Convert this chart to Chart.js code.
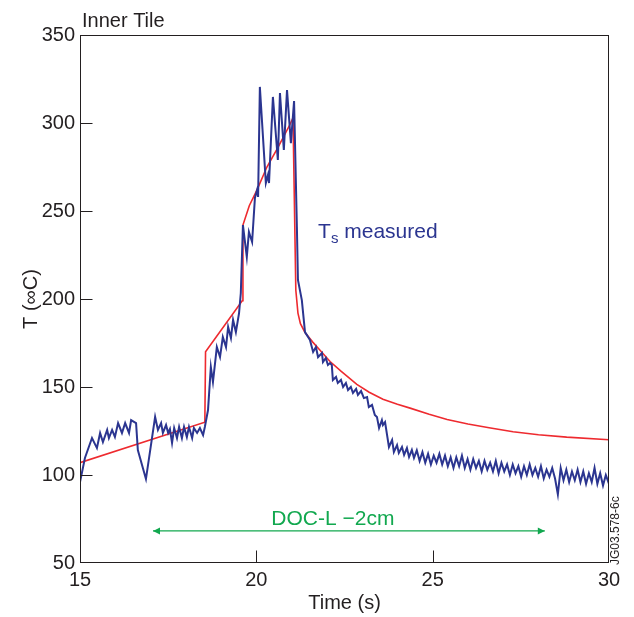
<!DOCTYPE html>
<html>
<head>
<meta charset="utf-8">
<script src="https://cdn.jsdelivr.net/npm/chart.js@4/dist/chart.umd.min.js"></script>
<style>
html, body { margin: 0; padding: 0; background: #fff; }
</style>
</head>
<body>
<canvas id="myChart" width="634" height="617"></canvas>
<script>
// measured surface temperature (blue)
var measTime = [15.00,15.14,15.34,15.48,15.57,15.65,15.77,15.82,15.91,15.99,16.08,16.19,16.28,16.39,16.45,16.59,16.64,16.87,17.13,17.21,
  17.30,17.35,17.44,17.50,17.55,17.61,17.67,17.75,17.81,17.89,17.95,18.03,18.09,18.18,18.23,18.32,18.40,18.49,18.54,18.63,
  18.71,18.77,18.88,18.97,19.05,19.14,19.20,19.28,19.34,19.42,19.51,19.56,19.62,19.73,19.79,19.88,19.96,20.02,20.05,20.10,
  20.27,20.33,20.36,20.47,20.61,20.67,20.78,20.87,20.98,21.07,21.15,21.18,21.29,21.38,21.52,21.61,21.69,21.75,21.86,21.89,
  21.97,22.03,22.09,22.14,22.17,22.26,22.31,22.40,22.46,22.54,22.60,22.68,22.74,22.83,22.88,22.97,23.05,23.14,23.19,23.28,
  23.36,23.42,23.48,23.56,23.59,23.65,23.76,23.85,23.90,23.99,24.04,24.13,24.19,24.27,24.33,24.41,24.47,
  24.55,24.63,24.71,24.79,24.87,24.95,25.03,25.11,25.19,25.27,25.35,25.43,25.51,25.59,25.67,25.75,25.83,25.91,25.99,26.07,
  26.15,26.23,26.31,26.39,26.47,26.55,26.63,26.71,26.79,26.87,26.95,27.03,27.11,27.19,27.27,27.35,27.43,27.51,27.59,27.67,
  27.75,27.83,27.91,27.99,28.07,28.15,28.23,28.31,28.39,28.47,28.55,28.63,28.71,28.79,28.87,28.95,29.03,29.11,29.19,29.27,
  29.35,29.43,29.51,29.59,29.67,29.75,29.83,29.91,30.00];
var measTemp = [96.0,109.7,121.0,115.3,123.9,118.7,125.6,121.0,125.6,121.6,129.5,123.9,129.5,123.9,131.2,129.5,114.2,97.7,133.0,125.6,
  129.5,123.9,128.4,123.9,126.1,118.2,126.7,121.0,127.3,121.0,127.3,121.6,127.3,121.0,126.7,123.9,126.7,122.7,127.3,136.9,
  161.4,152.8,172.7,167.0,178.4,172.7,184.1,177.8,188.1,181.2,192.0,203.4,242.0,223.9,238.1,232.4,257.4,261.9,258.0,320.5,
  265.9,270.5,265.9,314.8,279.0,317.0,284.7,318.7,288.6,312.5,240.9,210.8,199.4,181.2,176.7,169.9,172.7,167.0,169.3,164.2,
  166.5,162.5,163.6,162.5,154.0,155.7,152.3,154.0,150.0,152.3,148.3,150.0,146.6,148.9,145.5,147.7,143.7,144.3,138.6,139.8,
  134.1,133.0,126.7,131.2,128.4,130.1,115.9,119.9,113.1,117.0,112.5,115.9,111.4,115.3,110.2,114.2,109.7,
  114,108,113,107,112,106,111,107,112,106,111,105,110,104,110,105,111,104,109,103,
  109,104,108,102,108,103,107,102,108,101,107,102,106,100,106,101,105,99,105,100,
  106,100,104,99,105,98,103,99,104,98,89,104,97,103,96,102,97,103,96,102,
  95,101,96,104,95,101,94,100,95];

// model curve (red)
var modelTime = [15, 18.54, 18.56, 19.60, 19.62, 19.80, 20.02, 20.30, 20.61, 20.95, 21.04, 21.12, 21.18, 21.25, 21.38,
  21.60, 21.80, 22.09, 22.40, 22.85, 23.20, 23.59, 24.00, 24.36, 24.90, 25.41, 26.00, 26.60, 27.28, 28.00, 28.80, 30];
var modelTemp = [107, 130, 170, 199, 242, 253, 262, 275, 286, 299, 303, 205, 192, 186, 181,
  175.5, 171, 164.5, 159, 151.5, 147, 143, 140.2, 138, 134.5, 131.5, 129, 126.8, 124.6, 122.9, 121.5, 120];

// DOC-L arrow
var docTime = [17.07, 28.18];
var docTemp = [68.2, 68.2];

var xTicks = [15, 20, 25, 30];
var yTicks = [50, 100, 150, 200, 250, 300, 350];

var BLUE = '#2b3590';
var RED = '#ee2a2f';
var GREEN = '#12a84f';
var INK = '#231f20';
var FONT = '"Liberation Sans", Arial, Helvetica, sans-serif';

function pts(xs, ys) {
  return xs.map(function (x, i) { return { x: x, y: ys[i] }; });
}

var extras = {
  id: 'extras',
  afterDraw: function (chart) {
    var ctx = chart.ctx, a = chart.chartArea;
    var sx = chart.scales.x, sy = chart.scales.y;
    var L = Math.round(a.left) + 0.5, R = Math.round(a.right) - 0.5;
    var T = Math.round(a.top) + 0.5, B = Math.round(a.bottom) - 0.5;
    ctx.save();
    // frame
    ctx.strokeStyle = INK;
    ctx.lineWidth = 1;
    ctx.strokeRect(L, T, R - L, B - T);
    // inward ticks
    ctx.beginPath();
    xTicks.slice(1, -1).forEach(function (v) {
      var px = Math.round(sx.getPixelForValue(v)) + 0.5;
      ctx.moveTo(px, B); ctx.lineTo(px, B - 12);
    });
    yTicks.slice(1, -1).forEach(function (v) {
      var py = Math.round(sy.getPixelForValue(v)) + 0.5;
      ctx.moveTo(L, py); ctx.lineTo(L + 12, py);
    });
    ctx.stroke();

    // arrow heads
    var x0 = sx.getPixelForValue(docTime[0]), x1 = sx.getPixelForValue(docTime[1]);
    var ay = sy.getPixelForValue(docTemp[0]);
    ctx.fillStyle = GREEN;
    ctx.beginPath();
    ctx.moveTo(x0, ay); ctx.lineTo(x0 + 7, ay - 3.5); ctx.lineTo(x0 + 7, ay + 3.5); ctx.closePath();
    ctx.moveTo(x1, ay); ctx.lineTo(x1 - 7, ay - 3.5); ctx.lineTo(x1 - 7, ay + 3.5); ctx.closePath();
    ctx.fill();

    // texts
    ctx.textBaseline = 'alphabetic';
    ctx.textAlign = 'left';
    ctx.fillStyle = INK;
    ctx.font = '20px ' + FONT;
    ctx.fillText('Inner Tile', a.left + 2, 27);

    ctx.fillStyle = GREEN;
    ctx.font = '21px ' + FONT;
    ctx.textAlign = 'center';
    ctx.fillText('DOC-L \u22122cm', sx.getPixelForValue(22.17), ay - 6);

    ctx.fillStyle = BLUE;
    ctx.textAlign = 'left';
    var tx = sx.getPixelForValue(21.75), ty = sy.getPixelForValue(234.6);
    ctx.fillText('T', tx, ty);
    var w = ctx.measureText('T').width;
    ctx.font = '15px ' + FONT;
    ctx.fillText('s', tx + w, ty + 5);
    var sw = ctx.measureText('s').width;
    ctx.font = '21px ' + FONT;
    ctx.fillText(' measured', tx + w + sw, ty);

    ctx.fillStyle = INK;
    ctx.font = '12px ' + FONT;
    ctx.translate(616, 565);
    ctx.rotate(-Math.PI / 2);
    ctx.textBaseline = 'middle';
    ctx.fillText('JG03.578-6c', 0, 0);
    ctx.restore();
  }
};

var ctx = document.getElementById('myChart').getContext('2d');
var chart = new Chart(ctx, {
  type: 'line',
  data: {
    datasets: [{
      label: 'Ts measured',
      data: pts(measTime, measTemp),
      borderColor: BLUE,
      borderWidth: 2,
      pointRadius: 0,
      tension: 0
    }, {
      label: 'model',
      data: pts(modelTime, modelTemp),
      borderColor: RED,
      borderWidth: 1.6,
      pointRadius: 0,
      tension: 0
    }, {
      label: 'DOC-L',
      data: pts(docTime, docTemp),
      borderColor: GREEN,
      borderWidth: 1.3,
      pointRadius: 0
    }]
  },
  options: {
    responsive: false,
    animation: false,
    layout: { padding: { left: 0, right: 25, top: 35, bottom: 0 } },
    plugins: { legend: { display: false }, tooltip: { enabled: false } },
    scales: {
      x: {
        type: 'linear', min: 15, max: 30,
        afterFit: function (s) { s.height = 54; },
        grid: { display: false, drawTicks: false },
        border: { display: false },
        ticks: { stepSize: 5, padding: 5, color: INK, font: { family: FONT, size: 20 } },
        title: { display: true, text: 'Time (s)', color: INK, font: { family: FONT, size: 20 }, padding: { top: 0, bottom: 2 } }
      },
      y: {
        min: 50, max: 350,
        afterFit: function (s) { s.width = 80; },
        grid: { display: false, drawTicks: false },
        border: { display: false },
        ticks: { stepSize: 50, padding: 5, color: INK, font: { family: FONT, size: 20 } },
        title: { display: true, text: 'T (\u221EC)', color: INK, font: { family: FONT, size: 20 }, padding: { top: 19, bottom: 0 } }
      }
    }
  },
  plugins: [extras]
});
</script>
</body>
</html>
